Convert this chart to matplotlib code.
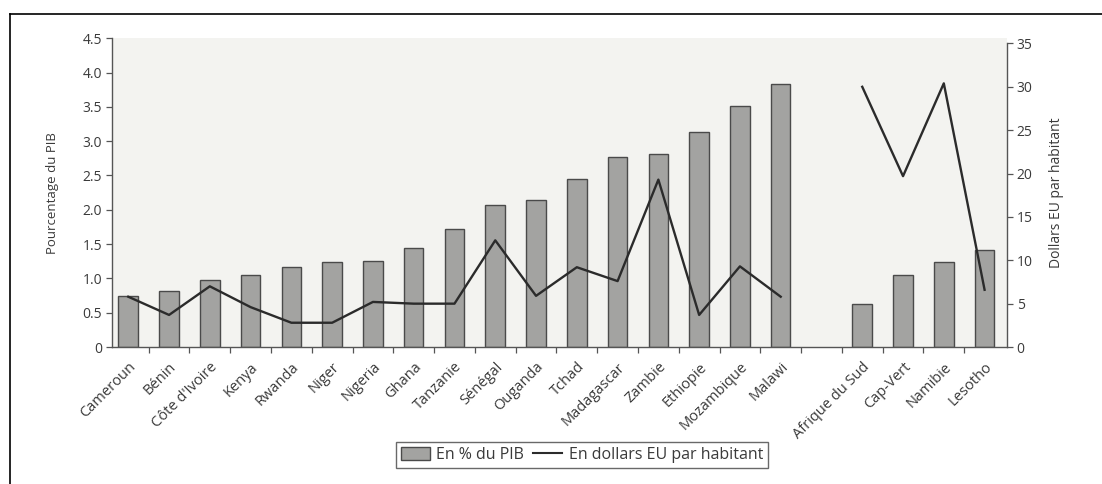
import numpy as np
import matplotlib
matplotlib.use("Agg")
import matplotlib.pyplot as plt
from matplotlib.lines import Line2D
from matplotlib.patches import Patch

plt.rcParams["font.family"] = ["Open Sans", "DejaVu Sans"]

# one empty slot separates the two country groups
categories = [
    "Cameroun", "Bénin", "Côte d'Ivoire", "Kenya", "Rwanda", "Niger",
    "Nigeria", "Ghana", "Tanzanie", "Sénégal", "Ouganda", "Tchad",
    "Madagascar", "Zambie", "Ethiopie", "Mozambique", "Malawi", "",
    "Afrique du Sud", "Cap-Vert", "Namibie", "Lesotho",
]
pct_pib = [
    0.74, 0.82, 0.98, 1.05, 1.17, 1.24, 1.25, 1.44, 1.72, 2.07, 2.14,
    2.45, 2.77, 2.82, 3.14, 3.51, 3.84, np.nan, 0.63, 1.05, 1.24, 1.41,
]
usd_hab = [
    5.8, 3.7, 7.0, 4.6, 2.8, 2.8, 5.2, 5.0, 5.0, 12.3, 5.9,
    9.2, 7.6, 19.3, 3.7, 9.3, 5.8, np.nan, 30.0, 19.7, 30.4, 6.6,
]
y1_ticks = [0, 0.5, 1.0, 1.5, 2.0, 2.5, 3.0, 3.5, 4.0, 4.5]
y1_labels = ["0", "0.5", "1.0", "1.5", "2.0", "2.5", "3.0", "3.5", "4.0", "4.5"]
y2_ticks = [0, 5, 10, 15, 20, 25, 30, 35]

TXT = "#3a3a3a"
BAR = "#a3a3a1"
EDGE = "#4a4a4a"

fig = plt.figure(figsize=(11.02, 4.84), dpi=100, facecolor="white")
ax = fig.add_axes([0.1016, 0.283, 0.8122, 0.638])
ax.set_facecolor("#f3f3f0")

x = np.arange(len(categories))
ax.bar(x, pct_pib, width=0.48, color=BAR, edgecolor=EDGE, linewidth=1.0, zorder=2)
ax.set_xlim(-0.4, len(categories) - 0.45)
ax.set_ylim(0, 4.5)
ax.set_yticks(y1_ticks)
ax.set_yticklabels(y1_labels)
ax.set_xticks(x[:-1] + 0.5)
ax.set_xticklabels([])
ax.set_xticks(x, minor=True)
ax.set_xticklabels(categories, minor=True, rotation=45, ha="right",
                   va="top", rotation_mode="anchor")
ax.tick_params(axis="x", which="minor", length=0, pad=9, labelsize=10.5, labelcolor=TXT)
ax.tick_params(axis="x", which="major", length=4, width=0.9, color="#555555")
ax.tick_params(axis="y", length=4, width=0.9, color="#555555", labelsize=10,
               labelcolor=TXT, pad=3)
ax.set_ylabel("Pourcentage du PIB", fontsize=9.5, color=TXT, labelpad=17)
for side in ("top", "right"):
    ax.spines[side].set_visible(False)
for side in ("left", "bottom"):
    ax.spines[side].set_color("#555555")
    ax.spines[side].set_linewidth(1.0)

ax2 = ax.twinx()
ax2.plot(x, usd_hab, color="#2b2b2b", linewidth=1.7, zorder=3)
ax2.set_ylim(0, 35.6)
ax2.set_yticks(y2_ticks)
ax2.spines["right"].set_bounds(0, 35)
ax2.spines["right"].set_color("#555555")
ax2.spines["right"].set_linewidth(1.0)
for side in ("top", "left", "bottom"):
    ax2.spines[side].set_visible(False)
ax2.tick_params(axis="y", length=4, width=0.9, color="#555555", labelsize=10,
                labelcolor=TXT, pad=3)
ax2.set_ylabel("Dollars EU par habitant", fontsize=10, color=TXT, labelpad=12)

handles = [
    Patch(facecolor=BAR, edgecolor=EDGE, linewidth=1.0),
    Line2D([0], [0], color="#2b2b2b", linewidth=1.5),
]
leg = fig.legend(handles, ["En % du PIB", "En dollars EU par habitant"],
                 loc="center", bbox_to_anchor=(0.528, 0.06), ncol=2,
                 fontsize=11.5, frameon=True, fancybox=False, handlelength=1.8,
                 handleheight=0.8, handletextpad=0.4, columnspacing=0.6,
                 borderpad=0.3, labelcolor=TXT)
leg.get_frame().set_edgecolor("#444444")
leg.get_frame().set_linewidth(1.0)

# outer frame, open at the right and bottom
fig.add_artist(Line2D([0.009, 0.009], [0.0, 0.971], color="black", linewidth=1.2,
                      transform=fig.transFigure))
fig.add_artist(Line2D([0.009, 1.0], [0.971, 0.971], color="black", linewidth=1.2,
                      transform=fig.transFigure))

fig.savefig("out.png", dpi=100, facecolor="white")
